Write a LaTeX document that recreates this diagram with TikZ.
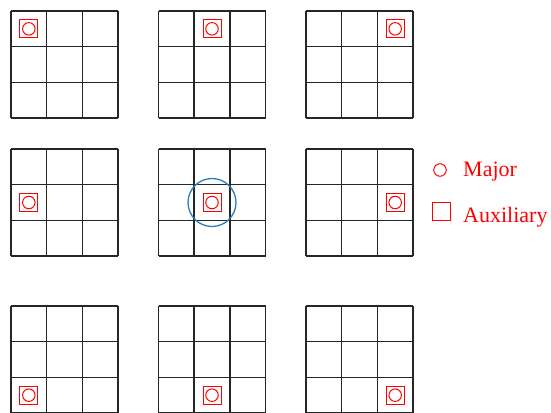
\documentclass[tikz,border=0pt]{standalone}
\usepackage{fontspec}
\setmainfont{Liberation Serif}
\definecolor{focusblue}{RGB}{40,125,195}
\begin{document}
\begin{tikzpicture}[x=1pt,y=-1pt,
  gridline/.style={line width=1.5pt, draw=black!85},
  aux/.style={draw=red, line width=1pt, rectangle, minimum size=18pt, inner sep=0pt},
  major/.style={draw=red, line width=1pt, circle, minimum size=12.5pt, inner sep=0pt},
  focus/.style={draw=focusblue, line width=1.3pt, circle, minimum size=48pt, inner sep=0pt},
  legendtext/.style={text=red, font=\fontsize{22}{26}\selectfont, anchor=base west, inner sep=0pt}]
\useasboundingbox (0,0) rectangle (551,412);
\def\cs{35.67}
\foreach \i/\x in {0/11,1/158.5,2/306}{
  \foreach \j/\y in {0/11,1/149,2/306}{
    \foreach \k in {0,1,2,3}{
      \draw[gridline] ({\x+\k*\cs},\y) -- ({\x+\k*\cs},{\y+3*\cs});
      \draw[gridline] (\x,{\y+\k*\cs}) -- ({\x+3*\cs},{\y+\k*\cs});
    }
    \node[aux] (a-\i-\j) at ({\x+\i*\cs+\cs/2},{\y+\j*\cs+\cs/2}) {};
    \node[major] (m-\i-\j) at (a-\i-\j) {};
  }
}
\node[focus] (f) at (a-1-1) {};
% legend
\node[major] (lm) at (440,170) {};
\node[legendtext] (lmt) at (463,176) {Major};
\node[aux] (la) at (441.5,211.7) {};
\node[legendtext] (lat) at (463,222.7) {Auxiliary};
\end{tikzpicture}
\end{document}
